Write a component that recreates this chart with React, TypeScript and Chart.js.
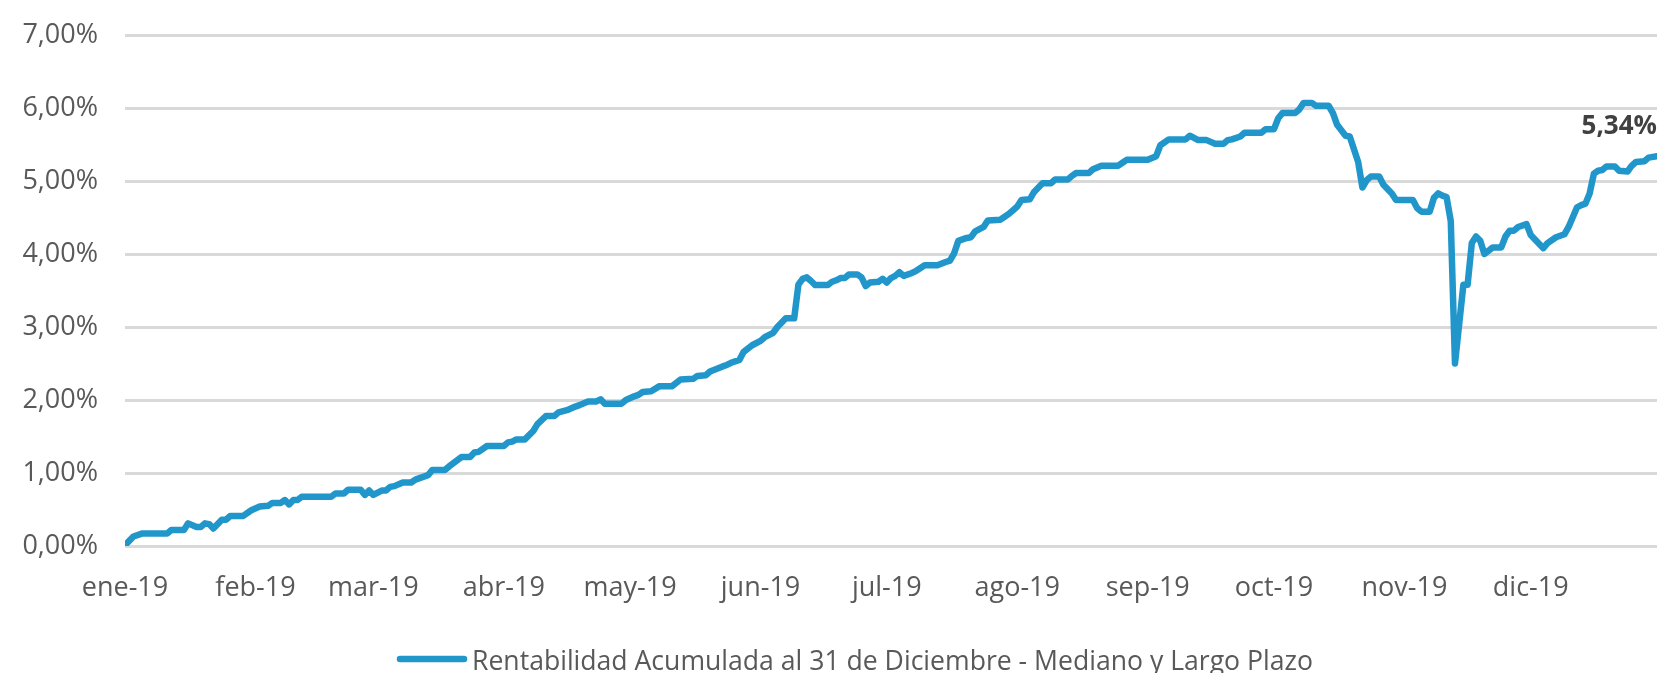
import React, { useEffect, useRef } from "react";
import { Chart, registerables } from "chart.js";

Chart.register(...registerables);

// Day of year (0 = 1 Jan 2019) for each reading
const days = [
  0, 2, 4, 10, 11, 14, 15, 17, 18, 19, 20, 21, 23, 24, 25, 28, 30, 32, 34, 35, 37, 38, 39, 40, 41, 42, 49, 50,
  52, 53, 56, 57, 58, 59, 61, 62, 63, 64, 66, 68, 69, 70, 72, 73, 76, 77, 80, 82, 83, 84, 86, 90, 91, 92, 93, 95,
  97, 98, 100, 102, 103, 105, 107, 108, 110, 112, 113, 114, 118, 119, 121, 122, 123, 125, 127, 130, 132, 135,
  136, 138, 139, 142, 143, 144, 146, 147, 149, 151, 152, 154, 155, 157, 159, 160, 161, 162, 163, 164, 167, 168,
  169, 170, 171, 172, 174, 175, 176, 177, 179, 180, 181, 182, 183, 184, 185, 187, 188, 190, 193, 195, 196, 197,
  198, 200, 201, 202, 204, 205, 208, 209, 210, 211, 212, 213, 215, 216, 218, 220, 221, 224, 225, 226, 229, 230,
  232, 236, 237, 238, 243, 245, 246, 248, 252, 253, 255, 257, 259, 261, 262, 263, 265, 266, 270, 271, 273, 274,
  275, 278, 279, 280, 282, 283, 286, 287, 288, 290, 291, 293, 294, 295, 296, 298, 299, 301, 302, 306, 307, 308,
  310, 311, 312, 313, 314, 315, 316, 318, 319, 320, 321, 322, 323, 325, 327, 328, 329, 330, 331, 333, 334, 337,
  338, 340, 342, 343, 345, 346, 347, 348, 349, 350, 351, 352, 354, 355, 357, 358, 359, 361, 362, 364,
];

// Cumulative return (%) at each reading
const returns = [
  0.01, 0.13, 0.17, 0.17, 0.22, 0.22, 0.31, 0.26, 0.26, 0.31, 0.3, 0.24, 0.36, 0.36, 0.41, 0.41, 0.49, 0.54, 0.55,
  0.59, 0.59, 0.63, 0.57, 0.63, 0.63, 0.675, 0.675, 0.72, 0.72, 0.77, 0.77, 0.7, 0.76, 0.7, 0.76, 0.76, 0.81, 0.82,
  0.87, 0.87, 0.91, 0.93, 0.97, 1.04, 1.04, 1.09, 1.22, 1.22, 1.28, 1.29, 1.37, 1.37, 1.42, 1.43, 1.46, 1.46,
  1.575, 1.67, 1.78, 1.78, 1.83, 1.86, 1.91, 1.93, 1.98, 1.98, 2.01, 1.95, 1.95, 2.0, 2.05, 2.07, 2.11, 2.12,
  2.19, 2.19, 2.28, 2.29, 2.33, 2.34, 2.39, 2.46, 2.48, 2.51, 2.55, 2.66, 2.75, 2.81, 2.86, 2.92, 3.0, 3.12, 3.12,
  3.58, 3.66, 3.68, 3.63, 3.575, 3.575, 3.62, 3.64, 3.67, 3.67, 3.72, 3.72, 3.68, 3.56, 3.61, 3.62, 3.66, 3.61,
  3.67, 3.7, 3.75, 3.7, 3.74, 3.77, 3.845, 3.845, 3.89, 3.91, 4.01, 4.18, 4.22, 4.23, 4.31, 4.37, 4.46, 4.47,
  4.51, 4.55, 4.6, 4.65, 4.74, 4.75, 4.85, 4.97, 4.97, 5.02, 5.02, 5.07, 5.11, 5.11, 5.16, 5.21, 5.21, 5.25,
  5.29, 5.29, 5.34, 5.49, 5.57, 5.57, 5.62, 5.56, 5.56, 5.51, 5.51, 5.56, 5.57, 5.61, 5.66, 5.66, 5.71, 5.71,
  5.86, 5.93, 5.93, 5.98, 6.07, 6.07, 6.03, 6.03, 5.93, 5.77, 5.62, 5.61, 5.26, 4.91, 5.01, 5.06, 5.06, 4.95,
  4.83, 4.74, 4.74, 4.63, 4.58, 4.58, 4.77, 4.83, 4.8, 4.78, 4.45, 2.5, 3.58, 3.58, 4.15, 4.24, 4.18, 4.0, 4.09,
  4.09, 4.24, 4.32, 4.32, 4.37, 4.41, 4.26, 4.08, 4.15, 4.23, 4.27, 4.37, 4.64, 4.67, 4.69, 4.83, 5.1, 5.14,
  5.15, 5.2, 5.2, 5.14, 5.13, 5.21, 5.26, 5.27, 5.32, 5.34,
];

// Month tick positions (day of year) and labels
const monthStarts = [0, 31, 59, 90, 120, 151, 181, 212, 243, 273, 304, 334];
const monthLabels = [
  "ene-19", "feb-19", "mar-19", "abr-19", "may-19", "jun-19",
  "jul-19", "ago-19", "sep-19", "oct-19", "nov-19", "dic-19",
];

const seriesLabel = "Rentabilidad Acumulada al 31 de Diciembre - Mediano y Largo Plazo";
const finalLabel = "5,34%";

const FONT = "'Open Sans', sans-serif";
const LINE_COLOR = "#2196CB";
const TEXT_COLOR = "#595959";

const fmtPct = (v: number) => v.toFixed(2).replace(".", ",") + "%";

const overlayPlugin = {
  id: "overlay",
  afterDraw(chart: any) {
    const ctx = chart.ctx;
    const xs = chart.scales.x;
    const ys = chart.scales.y;
    ctx.save();
    // End value label
    const lastX = xs.getPixelForValue(days[days.length - 1]);
    const lastY = ys.getPixelForValue(returns[returns.length - 1]);
    ctx.font = `bold 26px ${FONT}`;
    ctx.fillStyle = "#404040";
    ctx.textAlign = "right";
    ctx.textBaseline = "alphabetic";
    ctx.fillText(finalLabel, lastX, lastY - 22);
    // Legend
    ctx.strokeStyle = LINE_COLOR;
    ctx.lineWidth = 6.5;
    ctx.lineCap = "round";
    ctx.beginPath();
    ctx.moveTo(400, 659);
    ctx.lineTo(464, 659);
    ctx.stroke();
    ctx.font = `26.6px ${FONT}`;
    ctx.fillStyle = TEXT_COLOR;
    ctx.textAlign = "left";
    ctx.fillText(seriesLabel, 472, 670);
    ctx.restore();
  },
};

export default function App() {
  const ref = useRef<HTMLCanvasElement | null>(null);
  useEffect(() => {
    document.body.style.margin = "0";
    const canvas = ref.current!;
    const points = days.map((d, i) => ({ x: d, y: returns[i] }));
    const chart = new Chart(canvas, {
      type: "line",
      data: {
        datasets: [
          {
            label: seriesLabel,
            data: points,
            borderColor: LINE_COLOR,
            backgroundColor: LINE_COLOR,
            borderWidth: 6.5,
            pointRadius: 0,
            tension: 0,
            borderCapStyle: "round",
            borderJoinStyle: "round",
          },
        ],
      },
      options: {
        animation: false,
        responsive: false,
        maintainAspectRatio: false,
        layout: { padding: { left: 0, right: 3, top: 35, bottom: 0 } },
        plugins: { legend: { display: false }, tooltip: { enabled: false } },
        scales: {
          x: {
            type: "linear",
            min: 0,
            max: 364,
            grid: { display: false, drawTicks: false },
            border: { display: false },
            afterBuildTicks: (scale: any) => {
              scale.ticks = monthStarts.map((v) => ({ value: v }));
            },
            afterFit: (scale: any) => {
              scale.height = 127;
              scale.paddingLeft = 0;
              scale.paddingRight = 0;
            },
            ticks: {
              autoSkip: false,
              maxRotation: 0,
              padding: 26,
              color: TEXT_COLOR,
              font: { family: FONT, size: 27 },
              callback: (v: any) => {
                const i = monthStarts.indexOf(Number(v));
                return i >= 0 ? monthLabels[i] : "";
              },
            },
          },
          y: {
            min: 0,
            max: 7,
            grid: { color: "#D9D9D9", lineWidth: 3, drawTicks: false },
            border: { display: false },
            afterFit: (scale: any) => {
              scale.width = 125;
              scale.paddingTop = 0;
              scale.paddingBottom = 0;
            },
            ticks: {
              stepSize: 1,
              padding: 27,
              color: TEXT_COLOR,
              font: { family: FONT, size: 27 },
              callback: (v: any) => fmtPct(Number(v)),
            },
          },
        },
      },
      plugins: [overlayPlugin],
    });
    return () => chart.destroy();
  }, []);
  return <canvas ref={ref} width={1660} height={673} style={{ display: "block" }} />;
}
